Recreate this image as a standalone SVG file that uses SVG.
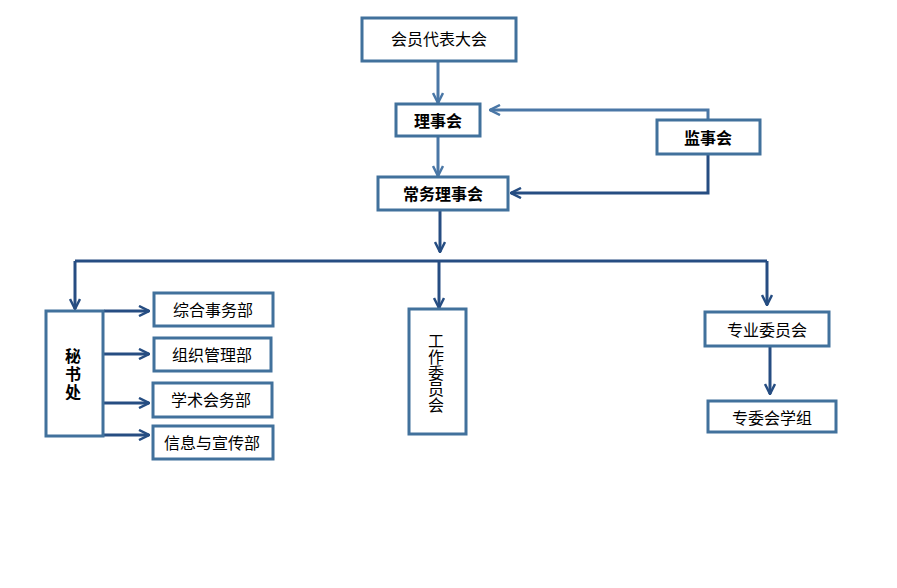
<svg xmlns="http://www.w3.org/2000/svg" width="897" height="588" viewBox="0 0 897 588">
<defs>
<style>
.box{fill:#fff;stroke:#41719c;stroke-width:3}
.t{font-family:"Noto Sans CJK SC","Noto Sans",sans-serif;font-size:16px;fill:#000;text-anchor:middle;dominant-baseline:central}
.b{font-weight:bold}
.v{writing-mode:vertical-rl;dominant-baseline:central}
.c1{fill:none;stroke:#4a77a6;stroke-width:3}
.c2{fill:none;stroke:#264d82;stroke-width:3}
</style>
<marker id="a1" viewBox="0 0 12 12" refX="11" refY="6" markerWidth="12" markerHeight="12" markerUnits="userSpaceOnUse" orient="auto"><path d="M1,1 L11,6 L1,11" fill="none" stroke="#4a77a6" stroke-width="2.5"/></marker>
<marker id="a2" viewBox="0 0 12 12" refX="11" refY="6" markerWidth="12" markerHeight="12" markerUnits="userSpaceOnUse" orient="auto"><path d="M1,1 L11,6 L1,11" fill="none" stroke="#264d82" stroke-width="2.5"/></marker>
</defs>
<rect width="897" height="588" fill="#fff"/>
<g id="connectors">
<path class="c1" d="M438,62 V103" marker-end="url(#a1)"/>
<path class="c1" d="M438,137 V176" marker-end="url(#a1)"/>
<path class="c1" d="M708,120 V110 H490" marker-end="url(#a1)"/>
<path class="c2" d="M708,154 V193 H511" marker-end="url(#a2)"/>
<path class="c2" d="M440,211 V252" marker-end="url(#a2)"/>
<path class="c2" d="M75,261 H767"/>
<path class="c2" d="M75,261 V309" marker-end="url(#a2)"/>
<path class="c2" d="M439,261 V308" marker-end="url(#a2)"/>
<path class="c2" d="M767,261 V305" marker-end="url(#a2)"/>
<path class="c2" d="M770,347 V394" marker-end="url(#a2)"/>
<path class="c2" d="M104,311 H149" marker-end="url(#a2)"/>
<path class="c2" d="M104,354 H149" marker-end="url(#a2)"/>
<path class="c2" d="M104,403 H149" marker-end="url(#a2)"/>
<path class="c2" d="M104,435 H149" marker-end="url(#a2)"/>
</g>
<g id="n1"><rect class="box" x="362" y="18" width="154" height="43"/><text class="t" x="439" y="38">会员代表大会</text></g>
<g id="n2"><rect class="box" x="396" y="104" width="84" height="32"/><text class="t b" x="438" y="120">理事会</text></g>
<g id="n3"><rect class="box" x="657" y="120" width="103" height="34"/><text class="t b" x="708" y="137">监事会</text></g>
<g id="n4"><rect class="box" x="378" y="177" width="130" height="33"/><text class="t b" x="443" y="193">常务理事会</text></g>
<g id="n5"><rect class="box" x="46" y="311" width="57" height="125"/><text class="t b v" x="73" y="375" letter-spacing="2">秘书处</text></g>
<g id="n6"><rect class="box" x="154" y="293" width="119" height="33"/><text class="t" x="213" y="309">综合事务部</text></g>
<g id="n7"><rect class="box" x="154" y="338" width="117" height="33"/><text class="t" x="212" y="354">组织管理部</text></g>
<g id="n8"><rect class="box" x="153" y="383" width="119" height="34"/><text class="t" x="211" y="399">学术会务部</text></g>
<g id="n9"><rect class="box" x="153" y="426" width="120" height="33"/><text class="t" x="212" y="442">信息与宣传部</text></g>
<g id="n10"><rect class="box" x="409" y="309" width="57" height="125"/><text class="t v" x="436" y="373">工作委员会</text></g>
<g id="n11"><rect class="box" x="705" y="312" width="124" height="34"/><text class="t" x="767" y="329">专业委员会</text></g>
<g id="n12"><rect class="box" x="708" y="401" width="128" height="31"/><text class="t" x="772" y="417">专委会学组</text></g>
</svg>
